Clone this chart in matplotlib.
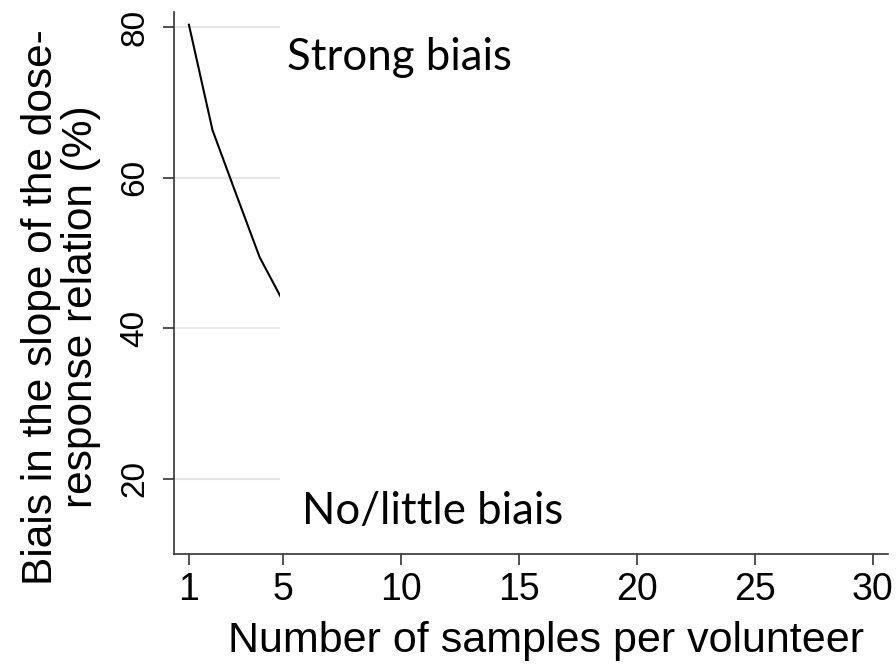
import matplotlib
matplotlib.use("Agg")
import matplotlib.pyplot as plt
from matplotlib.patches import Rectangle

# Simulated bias by number of repeated samples per volunteer
samples = [1, 2, 3, 4, 5]
bias_pct = [80.3, 66.3, 57.8, 49.4, 43.5]

x_ticks = [1, 5, 10, 15, 20, 25, 30]
y_ticks = [20, 40, 60, 80]

x_label = "Number of samples per volunteer"
y_label = "Biais in the slope of the dose-\nresponse relation (%)"
note_high = "Strong biais"
note_low = "No/little biais"

# portion of the curve revealed so far (x up to this value)
reveal_until = 4.87

fig = plt.figure(figsize=(8.96, 6.64), dpi=100)
ax = fig.add_axes([0.194, 0.166, 0.797, 0.816])

axis_font = ["Liberation Sans", "DejaVu Sans"]
note_font = ["Lato", "DejaVu Sans"]

ax.set_xlim(0.36, 30.64)
ax.set_ylim(10, 82)

for yv in y_ticks:
    ax.axhline(yv, color="#e6e6e6", lw=1.5, zorder=1)

ax.plot(samples, bias_pct, color="black", lw=1.5, zorder=2)

# white curtain hiding the rest of the plot area
ax.add_patch(Rectangle((reveal_until, 10), 30.64 - reveal_until, 72,
                       facecolor="white", edgecolor="none", zorder=3))

ax.set_xticks(x_ticks)
ax.set_yticks(y_ticks)
ax.set_xticklabels([str(v) for v in x_ticks], family=axis_font, fontsize=27)
ax.set_yticklabels([str(v) for v in y_ticks], family=axis_font, fontsize=24,
                   rotation=90, va="center")
ax.tick_params(axis="x", length=8, width=1.2, color="#333333", pad=5)
ax.tick_params(axis="y", length=8, width=1.2, color="#333333", pad=9)

for side in ["top", "right"]:
    ax.spines[side].set_visible(False)
for side in ["left", "bottom"]:
    ax.spines[side].set_color("#333333")
    ax.spines[side].set_linewidth(1.2)
    ax.spines[side].set_zorder(4)

fig.text(546 / 896, 1 - 652 / 664, x_label, family=axis_font, fontsize=31,
         ha="center", va="baseline")
fig.text(0.068, 0.538, y_label, family=axis_font, fontsize=30.5,
         rotation=90, ha="center", va="center", ma="center",
         linespacing=1.0)

fig.text(287 / 896, 1 - 57 / 664, note_high, family=note_font, fontsize=31.5,
         ha="left", va="center")
fig.text(302 / 896, 1 - 512 / 664, note_low, family=note_font, fontsize=31.5,
         ha="left", va="center")

fig.savefig("out.png", dpi=100)
